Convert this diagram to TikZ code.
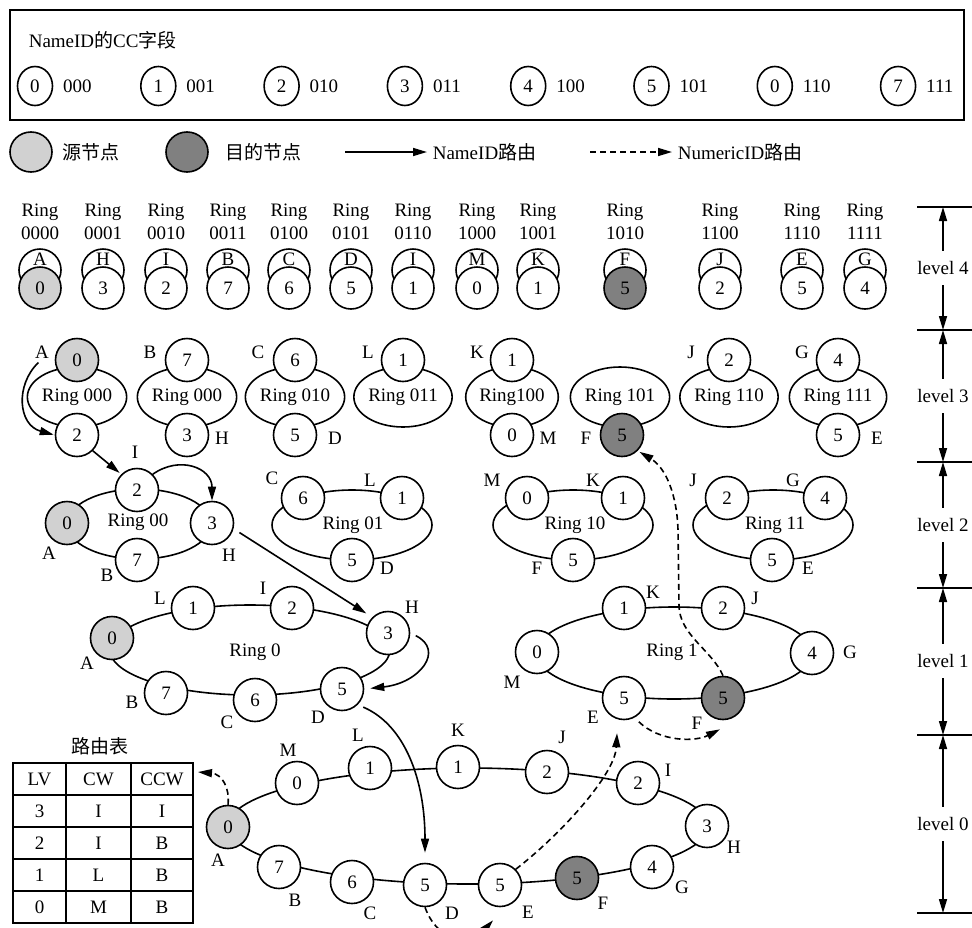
\documentclass[tikz,border=0pt]{standalone}
\usepackage{fontspec}
\setmainfont{Liberation Serif}
\newfontfamily\cjk{Noto Sans CJK SC}
\usetikzlibrary{arrows.meta,shapes.geometric,calc}
\definecolor{srcgray}{gray}{0.82}
\definecolor{dstgray}{gray}{0.5}
\newcommand\myfs{\fontsize{19}{21}\selectfont}
\begin{document}
\begin{tikzpicture}[x=1pt,y=-1pt, line width=1.6pt,
 every node/.style={font=\myfs, inner sep=0pt},
 nd/.style={circle, draw, fill=white, minimum size=43pt},
 src/.style={nd, fill=srcgray},
 dst/.style={nd, fill=dstgray},
 rg/.style={ellipse, draw, minimum width=86pt, minimum height=60pt},
 arr/.style={-{Triangle[length=14pt,width=8pt]}},
 darr/.style={arr, dash pattern=on 6pt off 4pt},
 cell/.style={draw, minimum height=32pt},
 lvl/.style={inner ysep=10pt, fill=white}
]
\useasboundingbox (0,0) rectangle (972,927);

% ---------- top box ----------
\node[draw, minimum width=954pt, minimum height=110pt, anchor=north west] (box) at (9,9) {};
\node[anchor=west] (title) at (28,40) {NameID{\cjk 的}CC{\cjk 字段}};
\foreach \n/\b [count=\i] in {0/000,1/001,2/010,3/011,4/100,5/101,0/110,7/111}{
  \node[ellipse, draw, minimum width=35pt, minimum height=39pt] (cc\i) at ({35+123.3*(\i-1)},86) {\n};
  \node[anchor=west] (cb\i) at ($(cc\i.east)+(9,0)$) {\b};
}

% ---------- legend ----------
\node[ellipse, draw, fill=srcgray, minimum width=42pt, minimum height=40pt] (lgs) at (31,152) {};
\node[anchor=west] (lgst) at (62,152) {\cjk 源节点};
\node[ellipse, draw, fill=dstgray, minimum width=42pt, minimum height=40pt] (lgd) at (187,152) {};
\node[anchor=west] (lgdt) at (225,152) {\cjk 目的节点};
\coordinate (lga) at (345,152);
\node[anchor=west] (lgat) at (432,152) {NameID{\cjk 路由}};
\draw[arr, shorten >=5pt] (lga) -- (lgat.west);
\coordinate (lgb) at (590,152);
\node[anchor=west] (lgbt) at (677,152) {NumericID{\cjk 路由}};
\draw[darr, shorten >=5pt] (lgb) -- (lgbt.west);

% ---------- level 4 ----------
\foreach \x/\l/\n/\s/\c [count=\i] in {40/A/0/src/0000, 103/H/3/nd/0001, 166/I/2/nd/0010, 228/B/7/nd/0011,
  289/C/6/nd/0100, 351/D/5/nd/0101, 413/I/1/nd/0110, 477/M/0/nd/1000, 538/K/1/nd/1001,
  625/F/5/dst/1010, 720/J/2/nd/1100, 802/E/5/nd/1110, 865/G/4/nd/1111}{
  \node (rt\i) at (\x,212) {Ring};
  \node (rc\i) at (\x,233) {\c};
  \node[nd, minimum size=42pt] (up\i) at (\x,270) {};
  \node (ul\i) at (\x,259) {\l};
  \node[\s, minimum size=42pt] (dn\i) at (\x,288) {\n};
}

% ---------- level 3 ----------
\node[rg] (g3a) at (77,397) {Ring 000};
\node[src] (g3a0) at (77,360) {0};
\node[nd] (g3a2) at (77,435) {2};
\node (g3al) at (42,352) {A};

\node[rg] (g3b) at (187,397) {Ring 000};
\node[nd] (g3b7) at (187,360) {7};
\node[nd] (g3b3) at (187,435) {3};
\node (g3bl) at (150,352) {B};
\node (g3hl) at (222,438) {H};

\node[rg] (g3c) at (295,397) {Ring 010};
\node[nd] (g3c6) at (295,360) {6};
\node[nd] (g3c5) at (295,435) {5};
\node (g3cl) at (258,352) {C};
\node (g3dl) at (335,438) {D};

\node[rg] (g3l) at (403,397) {Ring 011};
\node[nd] (g3l1) at (403,360) {1};
\node (g3ll) at (368,352) {L};

\node[rg] (g3k) at (512,397) {Ring100};
\node[nd] (g3k1) at (512,360) {1};
\node[nd] (g3k0) at (512,435) {0};
\node (g3kl) at (477,352) {K};
\node (g3ml) at (548,438) {M};

\node[rg] (g3f) at (620,397) {Ring 101};
\node[dst] (g3f5) at (622,435) {5};
\node (g3fl) at (586,438) {F};

\node[rg] (g3j) at (729,397) {Ring 110};
\node[nd] (g3j2) at (729,360) {2};
\node (g3jl) at (691,352) {J};

\node[rg] (g3g) at (838,397) {Ring 111};
\node[nd] (g3g4) at (838,360) {4};
\node[nd] (g3g5) at (838,435) {5};
\node (g3gl) at (802,352) {G};
\node (g3el) at (877,438) {E};

% ---------- level 2 ----------
\draw (139,524) ellipse [x radius=72pt, y radius=35pt];
\node (r00) at (138,522) {Ring 00};
\node[nd] (l2I) at (137,490) {2};
\node[src] (l2A) at (67,523) {0};
\node[nd] (l2H) at (212,523) {3};
\node[nd] (l2B) at (137,560) {7};
\node (l2Il) at (135,452) {I};
\node (l2Al) at (49,553) {A};
\node (l2Hl) at (229,555) {H};
\node (l2Bl) at (107,575) {B};

\draw (352,525) ellipse [x radius=80pt, y radius=35pt];
\node (r01) at (353,525) {Ring 01};
\node[nd] (l2C) at (303,498) {6};
\node[nd] (l2L) at (402,498) {1};
\node[nd] (l2D) at (352,560) {5};
\node (l2Cl) at (272,478) {C};
\node (l2Ll) at (370,480) {L};
\node (l2Dl) at (387,568) {D};

\draw (573,525) ellipse [x radius=80pt, y radius=35pt];
\node (r10) at (575,525) {Ring 10};
\node[nd] (l2M) at (527,498) {0};
\node[nd] (l2K) at (623,498) {1};
\node[nd] (l2F) at (573,560) {5};
\node (l2Ml) at (492,480) {M};
\node (l2Kl) at (593,480) {K};
\node (l2Fl) at (537,568) {F};

\draw (773,525) ellipse [x radius=80pt, y radius=35pt];
\node (r11) at (775,525) {Ring 11};
\node[nd] (l2J) at (727,498) {2};
\node[nd] (l2G) at (825,498) {4};
\node[nd] (l2E) at (772,560) {5};
\node (l2Jl) at (693,480) {J};
\node (l2Gl) at (793,480) {G};
\node (l2El) at (808,568) {E};

% ---------- level 1 ----------
\draw (250,650) ellipse [x radius=140pt, y radius=45pt];
\node (r0) at (255,652) {Ring 0};
\node[src] (l1A) at (112,638) {0};
\node[nd] (l1L) at (193,608) {1};
\node[nd] (l1I) at (292,608) {2};
\node[nd] (l1H) at (388,633) {3};
\node[nd] (l1D) at (342,689) {5};
\node[nd] (l1C) at (255,700) {6};
\node[nd] (l1B) at (166,693) {7};
\node (l1Ll) at (160,598) {L};
\node (l1Il) at (263,588) {I};
\node (l1Hl) at (412,607) {H};
\node (l1Al) at (87,663) {A};
\node (l1Bl) at (132,702) {B};
\node (l1Cl) at (227,722) {C};
\node (l1Dl) at (318,717) {D};

\draw (674,653) ellipse [x radius=138pt, y radius=46pt];
\node (r1) at (672,652) {Ring 1};
\node[nd] (l1M) at (537,652) {0};
\node[nd] (l1K) at (624,608) {1};
\node[nd] (l1J) at (723,608) {2};
\node[nd] (l1G) at (812,653) {4};
\node[dst] (l1F) at (723,698) {5};
\node[nd] (l1E) at (624,698) {5};
\node (l1Kl) at (653,592) {K};
\node (l1Jl) at (755,598) {J};
\node (l1Gl) at (850,652) {G};
\node (l1Ml) at (512,682) {M};
\node (l1El) at (593,717) {E};
\node (l1Fl) at (697,723) {F};

% ---------- level 0 ----------
\draw (468,826) ellipse [x radius=240pt, y radius=58pt];
\node[src] (z0A) at (228,827) {0};
\node[nd] (z0M) at (297,783) {0};
\node[nd] (z1L) at (370,768) {1};
\node[nd] (z1K) at (458,767) {1};
\node[nd] (z2J) at (547,772) {2};
\node[nd] (z2I) at (638,783) {2};
\node[nd] (z3H) at (707,826) {3};
\node[nd] (z4G) at (652,867) {4};
\node[dst] (z5F) at (577,878) {5};
\node[nd] (z5E) at (500,885) {5};
\node[nd] (z5D) at (425,885) {5};
\node[nd] (z6C) at (352,882) {6};
\node[nd] (z7B) at (279,867) {7};
\node (z0Ml) at (288,750) {M};
\node (z1Ll) at (358,735) {L};
\node (z1Kl) at (458,730) {K};
\node (z2Jl) at (562,737) {J};
\node (z2Il) at (668,770) {I};
\node (z3Hl) at (734,847) {H};
\node (z4Gl) at (682,887) {G};
\node (z5Fl) at (603,903) {F};
\node (z5El) at (528,912) {E};
\node (z5Dl) at (452,913) {D};
\node (z6Cl) at (370,913) {C};
\node (z7Bl) at (295,900) {B};
\node (z0Al) at (218,860) {A};

% ---------- routing table ----------
\node (tt) at (100,746) {\cjk 路由表};
\foreach \a/\b/\c [count=\r] in {LV/CW/CCW, 3/I/I, 2/I/B, 1/L/B, 0/M/B}{
  \node[cell, minimum width=53pt] (ta\r) at (39.5,{779+32*(\r-1)}) {\a};
  \node[cell, minimum width=65pt] (tb\r) at (98.5,{779+32*(\r-1)}) {\b};
  \node[cell, minimum width=62pt] (tc\r) at (162,{779+32*(\r-1)}) {\c};
}

% ---------- level scale ----------
\foreach \y [count=\i from 0] in {207,330,462,588,735,913}{
  \coordinate (t\i) at (943,\y);
  \draw (917,\y) -- (972,\y);
}
\node[lvl] (lv4) at (943,268) {level 4};
\node[lvl] (lv3) at (943,396) {level 3};
\node[lvl] (lv2) at (943,525) {level 2};
\node[lvl] (lv1) at (943,661) {level 1};
\node[lvl] (lv0) at (943,824) {level 0};
\draw[arr] (lv4.north) -- (t0);  \draw[arr] (lv4.south) -- (t1);
\draw[arr] (lv3.north) -- (t1);  \draw[arr] (lv3.south) -- (t2);
\draw[arr] (lv2.north) -- (t2);  \draw[arr] (lv2.south) -- (t3);
\draw[arr] (lv1.north) -- (t3);  \draw[arr] (lv1.south) -- (t4);
\draw[arr] (lv0.north) -- (t4);  \draw[arr] (lv0.south) -- (t5);

% ---------- NameID route ----------
\draw[arr, shorten <=5pt, shorten >=1pt] (g3al.south) .. controls (15,385) and (18,425) .. (g3a2.west);
\draw[arr, shorten >=2pt] (g3a2.south east) -- (l2I.north west);
\draw[arr] (l2I.north east) .. controls (180,455) and (212,468) .. (l2H.north);
\draw[arr, shorten <=7pt, shorten >=7pt] (l2H.-15) -- (l1H.north west);
\draw[arr, shorten <=6pt, shorten >=6pt] (l1H.east) .. controls (445,650) and (420,683) .. (l1D.east);
\draw[arr, shorten <=6pt, shorten >=10pt] (l1D.south east) .. controls (405,725) and (425,780) .. (z5D.north);

% ---------- NumericID route ----------
\draw[darr, shorten >=2pt] (l1F.north) .. controls (712,650) and (679,635) .. (679,605) -- (678,530) .. controls (677,495) and (666,468) .. (g3f5.south east);
\draw[darr] ($(l1E.south east)+(-1,8)$) .. controls (660,742) and (695,742) .. ($(l1F.south)+(-3,9)$);
\draw[darr] (z5E.north east) .. controls (560,835) and (615,775) .. ($(l1E.south)+(-7,13)$);
\draw[darr] (z5D.south) .. controls (440,948) and (475,940) .. ($(z5E.south)+(-7,13)$);
\coordinate (tblccw) at (198,772);
\draw[darr] (z0A.north) .. controls (230,788) and (222,774) .. (tblccw);
\end{tikzpicture}
\end{document}
